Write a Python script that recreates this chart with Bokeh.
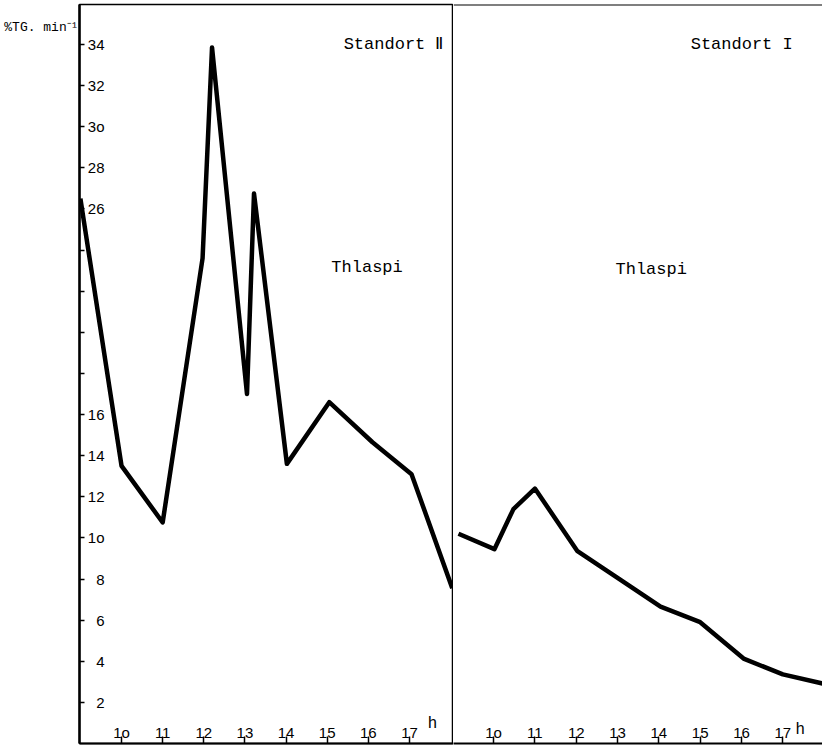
from bokeh.plotting import figure
from bokeh.layouts import row
from bokeh.models import FixedTicker, Label, Span, Range1d, LinearAxis
from bokeh.embed import file_html
from bokeh.resources import INLINE

# ---- data ----
left_hours = [9.0, 10.0, 11.0, 11.97, 12.2, 13.05, 13.22, 14.02, 15.05, 16.1, 17.05, 18.04]
left_vals = [26.5, 13.5, 10.75, 23.6, 33.85, 17.0, 26.75, 13.6, 16.6, 14.65, 13.1, 7.55]

right_hours = [9.15, 10.02, 10.48, 11.0, 12.03, 13.0, 14.04, 15.0, 16.05, 17.0, 17.96]
right_vals = [10.2, 9.45, 11.4, 12.4, 9.35, 8.05, 6.66, 5.9, 4.13, 3.36, 2.92]

x_ticks = [10, 11, 12, 13, 14, 15, 16, 17]
x_tick_labels = {10: "1o"}
y_ticks = [2, 4, 6, 8, 10, 12, 14, 16, 18, 20, 22, 24, 26, 28, 30, 32, 34]
y_tick_labels = {10: "1o", 30: "3o", 18: "", 20: "", 22: "", 24: ""}

left_title = "Standort Ⅱ"
right_title = "Standort I"
species = "Thlaspi"
y_unit = "%TG. min⁻¹"
y_unit_at = 34.82
x_unit = "h"

MONO = "Liberation Mono"
SANS = "Liberation Sans"
Y_TOP = 35.94


def style_x_axis(p):
    ax = p.xaxis[0]
    ax.ticker = FixedTicker(ticks=x_ticks)
    ax.major_label_overrides = {k: v for k, v in x_tick_labels.items()}
    ax.major_tick_in = 7
    ax.major_tick_out = 0
    ax.minor_tick_in = 0
    ax.minor_tick_out = 0
    ax.major_label_standoff = -20
    ax.major_label_text_font = SANS
    ax.major_label_text_font_size = "15px"
    ax.major_label_text_color = "black"
    ax.axis_line_width = 2
    ax.axis_line_color = "black"
    ax.major_tick_line_width = 1.5


p1 = figure(width=453, height=748, x_range=Range1d(8.978, 18.07), y_range=Range1d(0, Y_TOP),
            output_backend="svg", toolbar_location=None,
            min_border_left=79, min_border_right=0, min_border_top=4, min_border_bottom=5)
p1.grid.visible = False
p1.outline_line_color = "black"
p1.outline_line_width = 1.5
p1.background_fill_color = "white"
p1.border_fill_color = "white"
style_x_axis(p1)
ya = p1.yaxis[0]
ya.ticker = FixedTicker(ticks=y_ticks)
ya.major_label_overrides = {k: v for k, v in y_tick_labels.items()}
ya.major_tick_in = 5
ya.major_tick_out = 0
ya.minor_tick_in = 0
ya.minor_tick_out = 0
ya.major_label_standoff = -25
ya.major_label_text_font = SANS
ya.major_label_text_font_size = "15px"
ya.major_label_text_color = "black"
ya.axis_line_width = 2.5
ya.major_tick_line_width = 1.5

# unit label of the y axis, written as the single label of a bare extra axis
unit_axis = LinearAxis(ticker=FixedTicker(ticks=[y_unit_at]),
                       major_label_overrides={y_unit_at: y_unit},
                       axis_line_color=None, major_tick_line_color=None,
                       minor_tick_line_color=None, major_tick_in=0, major_tick_out=0,
                       minor_tick_in=0, minor_tick_out=0, major_label_standoff=1,
                       major_label_text_font=MONO,
                       major_label_text_font_size="13px", major_label_text_color="black")
p1.add_layout(unit_axis, "left")

p1.line(left_hours, left_vals, line_color="black", line_width=4.5, line_join="round")

p1.add_layout(Label(x=15.4, y=34.0, text=left_title, text_font=MONO, text_font_size="17px",
                    text_baseline="middle", text_color="black"))
p1.add_layout(Label(x=15.1, y=23.15, text=species, text_font=MONO, text_font_size="17px",
                    text_baseline="middle", text_color="black"))
p1.add_layout(Label(x=17.45, y=1.0, text=x_unit, text_font=SANS, text_font_size="16px",
                    text_baseline="alphabetic", text_color="black"))

p2 = figure(width=369, height=748, x_range=Range1d(9.03, 17.96), y_range=Range1d(0, Y_TOP),
            output_backend="svg", toolbar_location=None,
            min_border_left=0, min_border_right=0, min_border_top=4, min_border_bottom=5)
p2.grid.visible = False
p2.outline_line_color = None
p2.background_fill_color = "white"
p2.border_fill_color = "white"
p2.yaxis.visible = False
style_x_axis(p2)
p2.add_layout(Span(location=Y_TOP, dimension="width", line_color="black", line_width=2))

p2.line(right_hours, right_vals, line_color="black", line_width=4.5, line_join="round")

p2.add_layout(Label(x=14.77, y=34.0, text=right_title, text_font=MONO, text_font_size="17px",
                    text_baseline="middle", text_color="black"))
p2.add_layout(Label(x=12.95, y=23.05, text=species, text_font=MONO, text_font_size="17px",
                    text_baseline="middle", text_color="black"))
p2.add_layout(Label(x=17.31, y=0.75, text=x_unit, text_font=SANS, text_font_size="16px",
                    text_baseline="alphabetic", text_color="black"))

layout = row(p1, p2)
open("out.html", "w").write(file_html(layout, INLINE))
